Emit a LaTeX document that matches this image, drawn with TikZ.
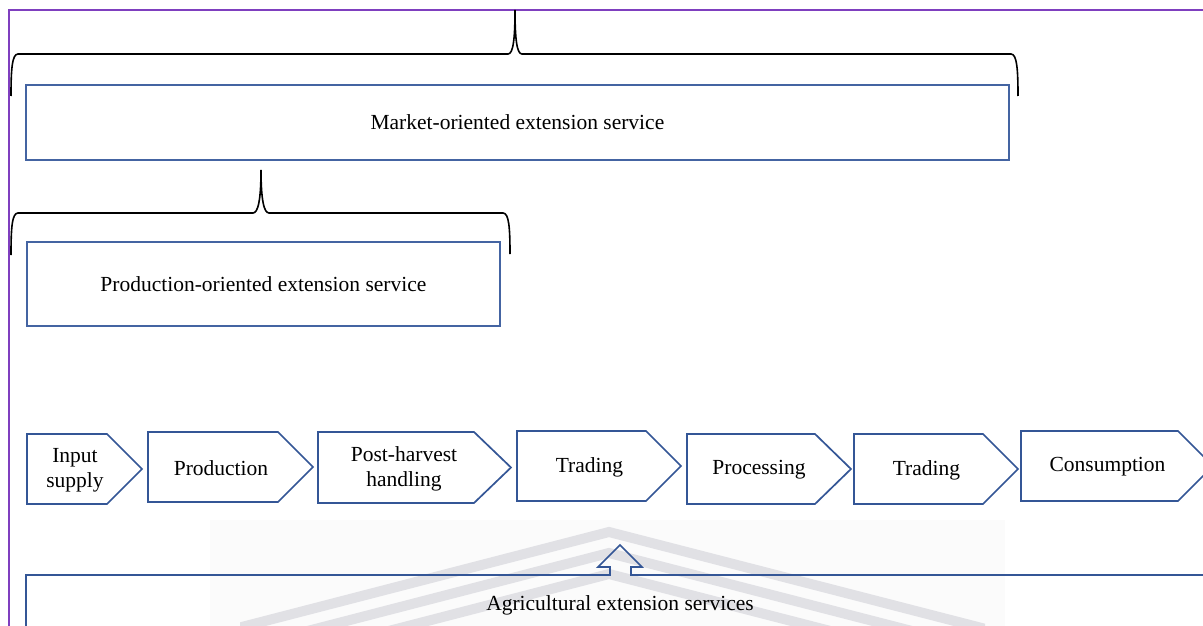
\documentclass[tikz,border=0pt]{standalone}
\usepackage{fontspec}
\setmainfont{Liberation Serif}
\definecolor{framepurple}{RGB}{127,63,191}
\definecolor{boxblue}{RGB}{68,100,162}
\definecolor{chevblue}{RGB}{52,86,150}
\definecolor{markgray}{RGB}{214,214,220}
\tikzset{
  lbl/.style={font=\fontsize{21.5}{25}\selectfont, align=center, inner sep=0pt},
  boxline/.style={draw=boxblue, line width=1.8pt},
  chevline/.style={draw=chevblue, line width=1.7pt, line join=miter},
  braceline/.style={draw=black, line width=1.6pt},
  frameline/.style={draw=framepurple, line width=2.4pt},
  markstripe/.style={draw=markgray, line width=10pt, line join=miter, opacity=0.7}
}
% chevron: name, left, top, bottom, flat end, point, text
\newcommand{\chevstep}[7]{%
  \draw[chevline] (#2,#3) -- (#5,#3) -- (#6,{(#3+#4)/2}) -- (#5,#4) -- (#2,#4) -- cycle;
  \node[lbl] (#1) at ({(#2+#5)/2+8},{(#3+#4)/2+1}) {#7};
}
\begin{document}
\begin{tikzpicture}[x=1pt,y=-1pt]
\useasboundingbox (0,0) rectangle (1203,626);
\clip (0,0) rectangle (1203,626);
\fill[white] (0,0) rectangle (1203,626);

% faint emblem behind the lower part
\fill[black!1.5] (210,520) rectangle (1005,626);
\begin{scope}
  \clip (240,500) rectangle (985,626);
  \foreach \dy in {0,21,42}{
    \draw[markstripe] (180,{532+\dy+111}) -- (609,{532+\dy}) -- (1040,{532+\dy+111});
  }
\end{scope}

% outer frame
\draw[frameline] (9,640) -- (9,10) -- (1220,10);

% upper brace
\coordinate (b1tip) at (515,10);
\draw[braceline] (11,96) .. controls (11,70) and (12,54) .. (18,54) -- (508,54)
  .. controls (513,54) and (515,40) .. (b1tip)
  .. controls (515,40) and (517,54) .. (522,54) -- (1011,54)
  .. controls (1017,54) and (1018,70) .. (1018,96);

% market-oriented box
\node[boxline, minimum width=983pt, minimum height=75pt, anchor=north west, inner sep=0pt] (market) at (25,84) {};
\node[lbl] (marketlbl) at (market.center) {Market-oriented extension service};

% lower brace
\coordinate (b2tip) at (261,170);
\draw[braceline] (11,255) .. controls (11,228) and (12,213) .. (18,213) -- (253,213)
  .. controls (258,213) and (261,200) .. (b2tip)
  .. controls (261,200) and (264,213) .. (269,213) -- (503,213)
  .. controls (509,213) and (510,228) .. (510,254);

% production-oriented box
\node[boxline, minimum width=473pt, minimum height=84pt, anchor=north west, inner sep=0pt] (production) at (26,241) {};
\node[lbl] (productionlbl) at (production.center) {Production-oriented extension service};

% value chain
\chevstep{input}{27}{434}{504}{107}{142}{Input\\supply}
\chevstep{prod}{148}{432}{502}{278}{313}{Production}
\chevstep{post}{318}{432}{503}{474}{511}{Post-harvest\\handling}
\chevstep{trade}{517}{431}{501}{646}{681}{Trading}
\chevstep{proc}{687}{434}{504}{815}{851}{Processing}
\chevstep{tradeb}{854}{434}{504}{983}{1018}{Trading}
\chevstep{cons}{1021}{431}{501}{1178}{1213}{Consumption}

% extension services box with the upward arrow
\coordinate (arrowtip) at (620,545);
\draw[chevline] (26,660) -- (26,575) -- (610,575) -- (610,567) -- (598,567) -- (arrowtip)
  -- (642,567) -- (631,567) -- (631,575) -- (1240,575) -- (1240,660);
\node[lbl, anchor=base] (ext) at (620,610) {Agricultural extension services};
\end{tikzpicture}
\end{document}
